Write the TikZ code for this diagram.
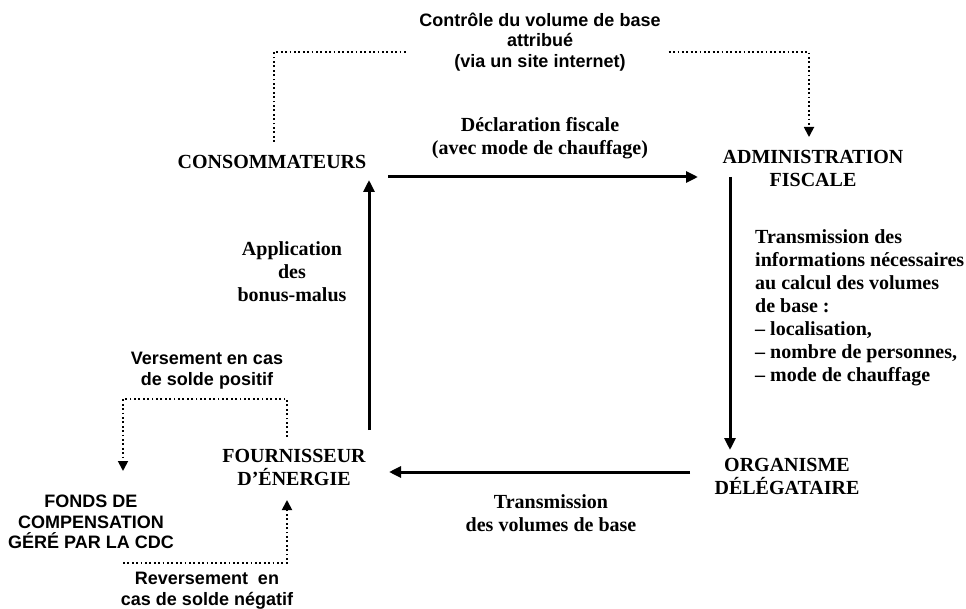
\documentclass[tikz,border=0pt]{standalone}
\usepackage{fontspec}
\setmainfont{Liberation Serif}
\newfontfamily\arialfont{Liberation Sans}
\usetikzlibrary{arrows.meta,calc}

\tikzset{
	tnode/.style={inner sep=0pt, align=center, font=\fontsize{20}{23}\selectfont\bfseries},
	snode/.style={inner sep=0pt, align=center, font=\arialfont\fontsize{18}{20.5}\selectfont\bfseries},
	flow/.style={line width=3pt, -{Triangle[length=12pt,width=11pt]}},
	dotline/.style={line width=1.8pt, dash pattern=on 1.8pt off 2.6pt},
	dotflow/.style={dotline, -{Triangle[length=10pt,width=10pt]}}
}

\begin{document}
\begin{tikzpicture}[x=1pt,y=-1pt]
	\useasboundingbox (0,0) rectangle (966,609);
	
	%main actors
	\node[tnode] (cons) at (272,162) {CONSOMMATEURS};
	\node[tnode] (admin) at (813,168.5) {ADMINISTRATION\\FISCALE};
	\node[tnode] (org) at (787,476) {ORGANISME\\DÉLÉGATAIRE};
	\node[tnode] (four) at (294,467.5) {FOURNISSEUR\\D’ÉNERGIE};
	\node[snode] (fonds) at (91,522) {FONDS DE\\COMPENSATION\\GÉRÉ PAR LA CDC};
	
	%labels
	\node[tnode] (decl) at (540,138.5) {Déclaration fiscale\\(avec mode de chauffage)};
	\node[tnode, align=left, anchor=west] (infos) at (755,308) {Transmission des\\informations nécessaires\\au calcul des volumes\\de base :\\– localisation,\\– nombre de personnes,\\– mode de chauffage};
	\node[tnode] (appl) at (292,272) {Application\\des\\bonus-malus};
	\node[tnode] (vol) at (551,513.5) {Transmission\\des volumes de base};
	\node[snode] (ctrl) at (540,42) {Contrôle du volume de base\\attribué\\(via un site internet)};
	\node[snode] (vers) at (207,370.5) {Versement en cas\\de solde positif};
	\node[snode] (revers) at (207,590.5) {Reversement\ \ en\\cas de solde négatif};
	
	%solid flows
	\draw[flow] ($(cons)+(116,15)$) -- ($(admin)+(-115,8.5)$);
	\draw[flow] ($(admin)+(-83,8.5)$) -- ($(org)+(-57,-26)$);
	\draw[flow] ($(org)+(-97,-4)$) -- ($(four)+(95,4.5)$);
	\draw[flow] ($(four)+(75,-37.5)$) -- ($(cons)+(97,18)$);
	
	%dotted flows
	\draw[dotline] ($(cons)+(2,-20)$) |- ($(ctrl.west)+(-11,10)$);
	\draw[dotflow] ($(ctrl.east)+(8,10)$) -| ($(admin)+(-4,-31.5)$);
	\draw[dotflow] ($(four)+(-7,-30.5)$) |- ($(vers)+(0,28.5)$) -| ($(fonds)+(32,-51)$);
	\draw[dotflow] ($(fonds)+(32,41)$) -| ($(four)+(-7,32.5)$);
\end{tikzpicture}
\end{document}
